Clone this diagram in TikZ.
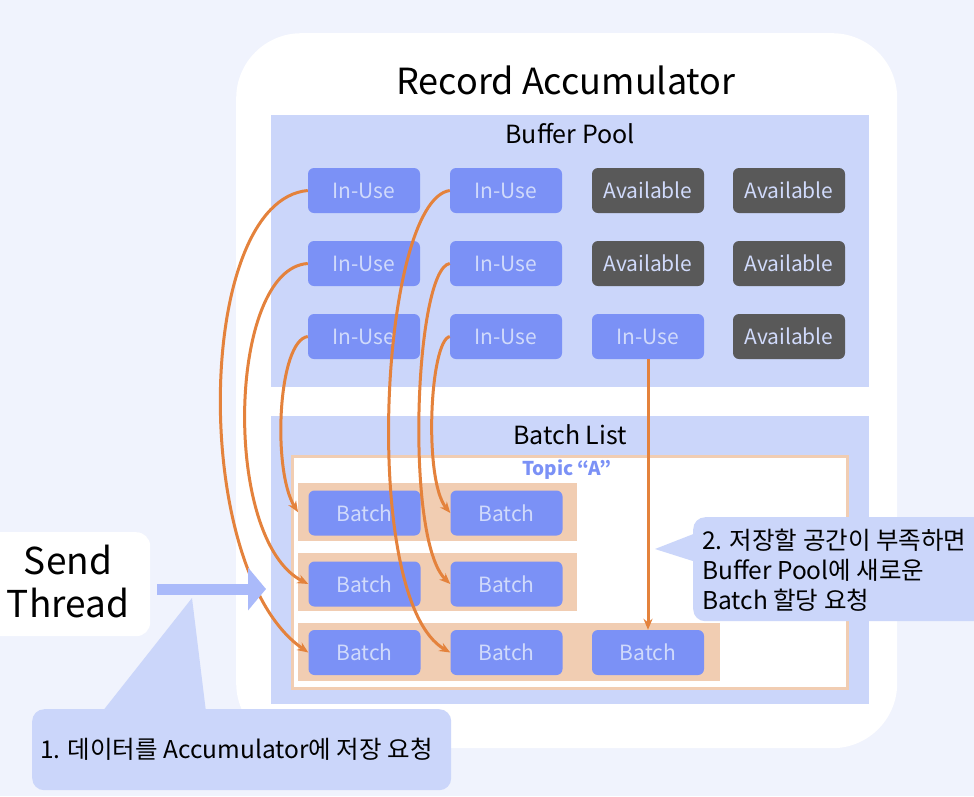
\documentclass[tikz,border=0pt]{standalone}
\usepackage{fontspec}
\setmainfont{Noto Sans CJK KR}
\usetikzlibrary{arrows.meta}
\definecolor{bg}{RGB}{240,243,253}
\definecolor{panel}{RGB}{203,214,250}
\definecolor{inusec}{RGB}{123,145,246}
\definecolor{availc}{RGB}{89,89,89}
\definecolor{boxtxt}{RGB}{208,218,251}
\definecolor{peach}{RGB}{241,205,178}
\definecolor{conn}{RGB}{228,130,60}
\definecolor{sendblue}{RGB}{170,186,250}
\begin{document}
\begin{tikzpicture}[x=1pt,y=-1pt,
  cell/.style={rounded corners=6pt, minimum width=112pt, minimum height=45pt, inner sep=0pt, text=boxtxt, font=\fontsize{21}{24}\selectfont},
  inusebox/.style={cell, fill=inusec},
  availbox/.style={cell, fill=availc},
  panelbox/.style={fill=panel, inner sep=0pt, anchor=north west},
  bandbox/.style={fill=peach, inner sep=0pt, anchor=north west, minimum height=58pt},
  wire/.style={draw=conn, line width=3pt, -{Stealth[length=11pt,width=9pt]}},
  callout/.style={fill=panel, rounded corners=12pt, inner sep=0pt, anchor=north west},
  label/.style={inner sep=0pt, text=black}
]
\useasboundingbox (0,0) rectangle (974,796);
\fill[bg] (0,0) rectangle (974,796);

% Record accumulator
\node[fill=white, rounded corners=65pt, minimum width=661pt, minimum height=715pt, inner sep=0pt, anchor=north west] (ra) at (236,33) {};
\node[label, font=\fontsize{36}{42}\selectfont] (title) at (566,80) {Record Accumulator};

% Buffer pool
\node[panelbox, minimum width=598pt, minimum height=272pt] (bp) at (271,115) {};
\node[label, font=\fontsize{25}{30}\selectfont] (bptitle) at (570,134) {Buffer Pool};

\node[inusebox] (u11) at (364,190.5) {In-Use};
\node[inusebox] (u12) at (506,190.5) {In-Use};
\node[availbox] (u13) at (648,190.5) {Available};
\node[availbox] (u14) at (789,190.5) {Available};
\node[inusebox] (u21) at (364,263.5) {In-Use};
\node[inusebox] (u22) at (506,263.5) {In-Use};
\node[availbox] (u23) at (648,263.5) {Available};
\node[availbox] (u24) at (789,263.5) {Available};
\node[inusebox] (u31) at (364,336.5) {In-Use};
\node[inusebox] (u32) at (506,336.5) {In-Use};
\node[inusebox] (u33) at (648,336.5) {In-Use};
\node[availbox] (u34) at (789,336.5) {Available};

% Batch list
\node[panelbox, minimum width=598pt, minimum height=288pt] (bl) at (271,416) {};
\node[label, font=\fontsize{25}{30}\selectfont] (bltitle) at (570,435) {Batch List};
\node[draw=peach, line width=3pt, fill=white, inner sep=0pt, minimum width=555pt, minimum height=232pt, anchor=north west] (topic) at (290.5,454.5) {};
\node[label, text=inusec, font=\bfseries\fontsize{19}{22}\selectfont] (topictitle) at (567,470) {Topic “A”};

\node[bandbox, minimum width=279pt] (band1) at (298,483) {};
\node[bandbox, minimum width=279pt] (band2) at (298,553) {};
\node[bandbox, minimum width=422pt] (band3) at (298,623) {};

\node[inusebox] (b11) at (364.5,513) {Batch};
\node[inusebox] (b12) at (506.5,513) {Batch};
\node[inusebox] (b21) at (364.5,584) {Batch};
\node[inusebox] (b22) at (506.5,584) {Batch};
\node[inusebox] (b31) at (364.5,652.5) {Batch};
\node[inusebox] (b32) at (506.5,652.5) {Batch};
\node[inusebox] (b33) at (648,652.5) {Batch};

% connectors
\draw[wire] (u11.west) .. controls +(-113,10) and +(-119,-82) .. (b31.west);
\draw[wire] (u21.west) .. controls +(-80,5) and +(-87,-44) .. (b21.west);
\draw[wire] (u31.west) .. controls +(-30,4) and +(-26,-42) .. (band1.west);
\draw[wire] (u12.west) .. controls +(-70,10) and +(-91,-52) .. (b32.west);
\draw[wire] (u22.west) .. controls +(-35,5) and +(-46,-44) .. (b22.west);
\draw[wire] (u32.west) .. controls +(-20,4) and +(-27,-33) .. (b12.west);
\draw[wire] (u33.south) -- (b33.north);

% Send thread
\node[fill=white, rounded corners=14pt, inner sep=0pt, minimum width=170pt, minimum height=104pt, anchor=north west] (sendbox) at (-20,532) {};
\node[label, align=center, font=\fontsize{37}{43}\selectfont] (send) at (68,582) {Send\\Thread};
\coordinate (sendstart) at (157,589);
\coordinate (sendtip) at (266,589);
\draw[sendblue, line width=11pt, -{Triangle[length=18pt,width=42pt]}] (sendstart) -- (sendtip);

% callout 1
\fill[panel] (102,712) -- (192,598) -- (206,712) -- cycle;
\node[callout, minimum width=419pt, minimum height=81pt] (c1) at (32,709) {};
\node[label, anchor=west, font=\fontsize{24.5}{29}\selectfont] (c1text) at (40,749) {1. 데이터를 Accumulator에 저장 요청};

% callout 2
\fill[panel] (696,533) -- (655,549) -- (696,562) -- cycle;
\node[callout, minimum width=300pt, minimum height=104pt] (c2) at (693,517) {};
\node[label, anchor=west, align=left, font=\fontsize{24.5}{30}\selectfont] (c2text) at (702,570) {2. 저장할 공간이 부족하면\\Buffer Pool에 새로운\\Batch 할당 요청};
\end{tikzpicture}
\end{document}
